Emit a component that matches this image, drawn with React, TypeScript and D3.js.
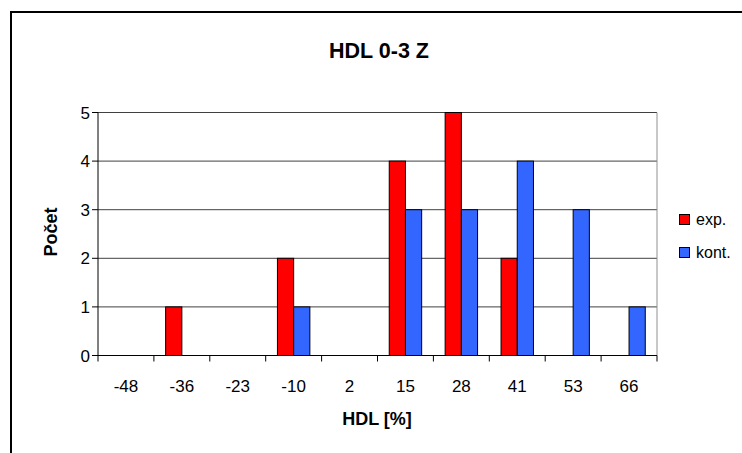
import React from "react";
import * as d3 from "d3";

const categories = ["-48", "-36", "-23", "-10", "2", "15", "28", "41", "53", "66"];
const expValues = [0, 1, 0, 2, 0, 4, 5, 2, 0, 0];
const kontValues = [0, 0, 0, 1, 0, 3, 3, 4, 3, 1];
const yTicks = [0, 1, 2, 3, 4, 5];
const seriesNames = ["exp.", "kont."];
const seriesColors = ["#FF0000", "#3366FF"];

const W = 742;
const H = 453;
const plot = { left: 98, top: 112.5, right: 657, bottom: 355.5 };
const font = "'Liberation Sans', Arial, sans-serif";

export default function App() {
  const x = d3
    .scaleBand<string>()
    .domain(categories)
    .range([plot.left, plot.right])
    .paddingInner(0)
    .paddingOuter(0);
  const y = d3.scaleLinear().domain([0, 5]).range([plot.bottom, plot.top]);
  const bw = x.bandwidth();
  const barW = bw * 0.29;
  const gap = (bw - 2 * barW) / 2;
  const series = [expValues, kontValues];

  return (
    <svg
      width={W}
      height={H}
      style={{ position: "absolute", left: 0, top: 0, background: "#fff" }}
      fontFamily={font}
    >
      {/* outer chart frame */}
      <rect x={11} y={12} width={W + 20} height={H + 20} fill="#fff" stroke="#000" strokeWidth={2} />

      {/* title */}
      <text x={379} y={57.5} textAnchor="middle" fontSize={21.5} fontWeight="bold">
        HDL 0-3 Z
      </text>

      {/* gridlines */}
      {yTicks.slice(1).map((t) => (
        <line key={t} x1={plot.left} x2={plot.right} y1={y(t)} y2={y(t)} stroke="#404040" strokeWidth={1} />
      ))}
      {/* plot area border (right side) */}
      <line x1={plot.right} x2={plot.right} y1={plot.top} y2={plot.bottom} stroke="#909090" strokeWidth={1} />

      {/* bars */}
      {series.map((vals, si) =>
        vals.map((v, i) =>
          v > 0 ? (
            <rect
              key={`${si}-${i}`}
              x={(x(categories[i]) as number) + gap + si * barW}
              y={y(v)}
              width={barW}
              height={y(0) - y(v)}
              fill={seriesColors[si]}
              stroke="#000"
              strokeWidth={1}
            />
          ) : null
        )
      )}

      {/* y axis */}
      <line x1={plot.left} x2={plot.left} y1={plot.top} y2={plot.bottom} stroke="#000" strokeWidth={1} />
      {yTicks.map((t) => (
        <g key={t}>
          <line x1={plot.left - 6} x2={plot.left} y1={y(t)} y2={y(t)} stroke="#000" strokeWidth={1} />
          <text x={plot.left - 8} y={y(t) + 6} textAnchor="end" fontSize={17}>
            {t}
          </text>
        </g>
      ))}

      {/* x axis */}
      <line x1={plot.left} x2={plot.right} y1={plot.bottom} y2={plot.bottom} stroke="#000" strokeWidth={1} />
      {categories.map((c, i) => (
        <line
          key={`t${i}`}
          x1={x(c) as number}
          x2={x(c) as number}
          y1={plot.bottom}
          y2={plot.bottom + 6}
          stroke="#000"
          strokeWidth={1}
        />
      ))}
      <line x1={plot.right} x2={plot.right} y1={plot.bottom} y2={plot.bottom + 6} stroke="#000" strokeWidth={1} />
      {categories.map((c) => (
        <text key={c} x={(x(c) as number) + bw / 2} y={391.5} textAnchor="middle" fontSize={17}>
          {c}
        </text>
      ))}

      {/* axis titles */}
      <text x={377} y={425} textAnchor="middle" fontSize={18} fontWeight="bold">
        HDL [%]
      </text>
      <text
        transform={`translate(57, 232) rotate(-90)`}
        textAnchor="middle"
        fontSize={18}
        fontWeight="bold"
      >
        Počet
      </text>

      {/* legend */}
      {seriesNames.map((n, i) => (
        <g key={n} transform={`translate(679, ${214 + i * 33})`}>
          <rect x={0.5} y={0.5} width={10} height={10} fill={seriesColors[i]} stroke="#000" strokeWidth={1} />
          <text x={17} y={11} fontSize={16}>
            {n}
          </text>
        </g>
      ))}
    </svg>
  );
}
